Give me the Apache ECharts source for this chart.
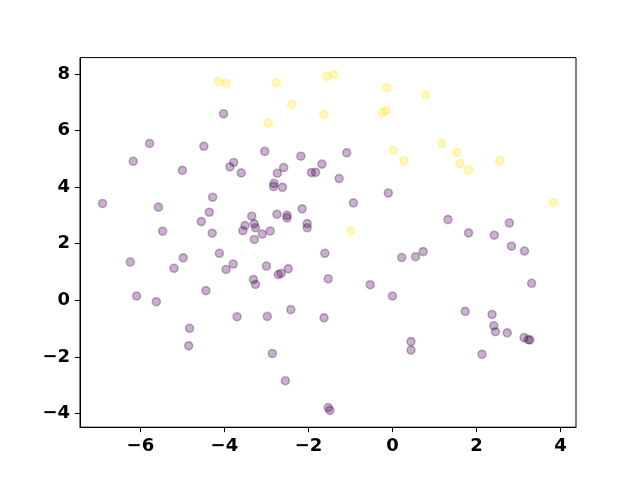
<!DOCTYPE html>
<html>
<head>
<meta charset="utf-8">
<script src="https://cdn.jsdelivr.net/npm/echarts@6/dist/echarts.min.js"></script>
<style>html,body{margin:0;padding:0;background:#fff}#c{width:640px;height:480px}</style>
</head>
<body>
<div id="c"></div>
<script>
const xTicks = [-6, -4, -2, 0, 2, 4];
const yTicks = [-4, -2, 0, 2, 4, 6, 8];

const class0X = [-4.02,-5.78,-6.17,-4.49,-5.00,-3.87,-3.78,-3.60,-3.04,-2.18,-2.59,-2.74,-1.68,-1.93,-1.83,-1.27,-1.09,-2.82,-2.83,-2.62,-0.10,-0.93,-6.90,-5.57,-4.28,-4.36,-4.55,-4.29,-5.47,-3.35,-2.75,-2.51,-2.51,-2.15,-3.51,-3.56,-3.29,-3.26,-3.10,-2.91,-3.29,-2.03,-2.03,-1.61,0.22,0.55,0.73,1.32,1.81,2.42,2.78,2.83,3.14,3.31,-6.24,-4.98,-5.20,-4.12,-3.96,-3.79,-3.00,-2.72,-2.65,-2.48,-3.31,-3.26,-1.53,-0.53,0.00,-4.44,-6.09,-5.62,-3.70,-4.83,-4.85,-2.98,-2.42,-1.63,-2.86,-2.55,-1.53,-1.49,0.44,0.44,1.73,2.37,2.41,2.45,2.73,2.13,3.13,3.23,3.27];
const class0Y = [6.59,5.54,4.91,5.44,4.59,4.71,4.87,4.50,5.26,5.09,4.69,4.49,4.81,4.51,4.52,4.30,5.21,4.13,4.02,3.99,3.79,3.44,3.42,3.29,3.64,3.11,2.78,2.37,2.44,2.97,3.04,3.00,2.91,3.23,2.64,2.46,2.70,2.56,2.34,2.45,2.15,2.71,2.56,1.66,1.51,1.54,1.72,2.85,2.38,2.30,2.73,1.91,1.74,0.60,1.35,1.50,1.13,1.66,1.09,1.28,1.21,0.91,0.95,1.11,0.73,0.56,0.76,0.55,0.15,0.34,0.15,-0.05,-0.58,-0.99,-1.61,-0.57,-0.33,-0.62,-1.88,-2.84,-3.79,-3.89,-1.46,-1.76,-0.39,-0.50,-0.90,-1.11,-1.15,-1.91,-1.32,-1.39,-1.40];
const class1X = [-4.14,-3.96,-2.76,-1.56,-1.40,-0.14,0.79,-2.40,-1.64,-2.95,-0.24,-0.15,0.02,0.27,1.17,1.53,1.60,1.81,2.55,3.83,-0.99];
const class1Y = [7.73,7.67,7.69,7.91,7.98,7.51,7.26,6.91,6.57,6.26,6.63,6.70,5.30,4.93,5.54,5.22,4.83,4.61,4.93,3.44,2.45];

const purple = '#440154';
const yellow = '#fde725';

function pairs(xs, ys) { return xs.map((x, i) => [x, ys[i]]); }
const allX = class0X.concat(class1X), allY = class0Y.concat(class1Y);
function lims(v) {
  const lo = Math.min(...v), hi = Math.max(...v), m = (hi - lo) * 0.05;
  return [lo - m, hi + m];
}
const [xMin, xMax] = lims(allX);
const [yMin, yMax] = lims(allY);
const fmt = v => String(v).replace('-', '\u2212');

const labelStyle = { fontFamily: 'DejaVu Sans', fontWeight: 'bold', fontSize: 18, color: '#000', margin: 10, formatter: fmt };
const chart = echarts.init(document.getElementById('c'), null, { renderer: 'canvas' });
chart.setOption({
  animation: false,
  backgroundColor: '#fff',
  grid: { left: 80, right: 64, top: 57.6, bottom: 52.8, show: true, borderColor: '#000', borderWidth: 1, backgroundColor: 'transparent' },
  xAxis: {
    type: 'value', min: xMin, max: xMax,
    axisLine: { show: true, onZero: false, lineStyle: { color: '#000', width: 1 } },
    axisTick: { show: true, length: 5, lineStyle: { color: '#000' }, customValues: xTicks },
    axisLabel: Object.assign({ customValues: xTicks }, labelStyle),
    splitLine: { show: false }
  },
  yAxis: {
    type: 'value', min: yMin, max: yMax,
    axisLine: { show: true, onZero: false, lineStyle: { color: '#000', width: 1 } },
    axisTick: { show: true, length: 5, lineStyle: { color: '#000' }, customValues: yTicks },
    axisLabel: Object.assign({ customValues: yTicks }, labelStyle),
    splitLine: { show: false }
  },
  series: [
    { type: 'scatter', data: pairs(class0X, class0Y), symbolSize: 8, itemStyle: { color: purple, borderColor: purple, borderWidth: 1.6, opacity: 0.3 } },
    { type: 'scatter', data: pairs(class1X, class1Y), symbolSize: 8, itemStyle: { color: yellow, borderColor: yellow, borderWidth: 1.6, opacity: 0.3 } }
  ]
});
</script>
</body>
</html>
